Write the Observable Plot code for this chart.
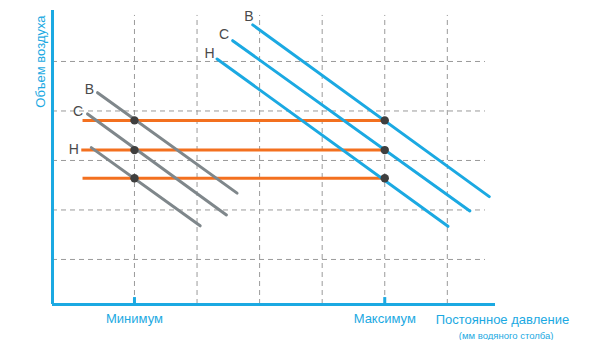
<!DOCTYPE html>
<html><head><meta charset="utf-8">
<script src="https://cdn.jsdelivr.net/npm/d3@7"></script>
<script src="https://cdn.jsdelivr.net/npm/@observablehq/plot@0.6"></script>
<style>body{margin:0;background:#fff}</style>
</head><body><div id="chart"></div>
<script>
// Levels: В (high), С (medium), Н (low)
const levels = ["В", "С", "Н"];
// Grid positions (arbitrary units)
const gridX = [2, 3, 4, 5, 6, 7];
const gridY = [1, 2, 3, 4, 5];
const minX = 2, maxX = 6;
// Orange operating lines (constant air volume)
const orangeY = [3.81, 3.21, 2.64];
const orangeX0 = [1.17, 1.15, 1.17];
// Gray fan curves (minimum)
const grayX1 = [1.41, 1.25, 1.31], grayY1 = [4.37, 3.94, 3.26];
const grayX2 = [3.64, 3.47, 3.05], grayY2 = [2.34, 1.90, 1.68];
// Blue fan curves (maximum)
const blueX1 = [3.89, 3.57, 3.32], blueY1 = [5.74, 5.42, 5.05];
const blueX2 = [7.67, 7.36, 7.01], blueY2 = [2.27, 1.98, 1.67];
// Level label positions
const grayLabX = [1.28, 1.10, 1.03], grayLabY = [4.43, 3.99, 3.22];
const blueLabX = [3.83, 3.43, 3.20], blueLabY = [5.91, 5.54, 5.16];
// Axis texts
const xTickLabels = ["Минимум", "Максимум"];
const xTitle = "Постоянное давление";
const xSubtitle = "(мм водяного столба)";
const yTitle = "Объем воздуха";

const blue = "#1ba9e2", orange = "#f3701f", gray = "#7f878b", dot = "#3f3f3f", gridC = "#9a9a9a";
const font = "Liberation Sans, Arial, sans-serif";

const idx = d3.range(3);
const chart = Plot.plot({
  width: 601, height: 340,
  marginLeft: 52, marginRight: 106, marginTop: 10, marginBottom: 36,
  style: {fontFamily: font, background: "#fff"},
  x: {domain: [0.69, 7.77], axis: null},
  y: {domain: [0.09, 6.03], axis: null},
  marks: [
    Plot.ruleX(gridX, {y1: 0.09, y2: 5.93, stroke: gridC, strokeWidth: 1, strokeDasharray: "5,4"}),
    Plot.ruleY(gridY, {x1: 0.69, x2: 7.61, stroke: gridC, strokeWidth: 1, strokeDasharray: "5,4"}),
    Plot.link(idx, {x1: i => orangeX0[i], x2: maxX, y1: i => orangeY[i], y2: i => orangeY[i], stroke: orange, strokeWidth: 3}),
    Plot.link(idx, {x1: i => grayX1[i], y1: i => grayY1[i], x2: i => grayX2[i], y2: i => grayY2[i], stroke: gray, strokeWidth: 3, strokeLinecap: "round"}),
    Plot.link(idx, {x1: i => blueX1[i], y1: i => blueY1[i], x2: i => blueX2[i], y2: i => blueY2[i], stroke: blue, strokeWidth: 3, strokeLinecap: "round"}),
    Plot.dot(idx, {x: minX, y: i => orangeY[i], r: 4.2, fill: dot}),
    Plot.dot(idx, {x: maxX, y: i => orangeY[i], r: 4.2, fill: dot}),
    Plot.text(idx, {x: i => grayLabX[i], y: i => grayLabY[i], text: i => levels[i], fill: "#4a4a4a", fontSize: 14}),
    Plot.text(idx, {x: i => blueLabX[i], y: i => blueLabY[i], text: i => levels[i], fill: "#4a4a4a", fontSize: 14}),
    // axes
    Plot.ruleX([0.69], {y1: 0.09, y2: 6.03, stroke: blue, strokeWidth: 3}),
    Plot.ruleY([0.09], {x1: 0.69, x2: 7.77, stroke: blue, strokeWidth: 3}),
    Plot.ruleX([minX, maxX], {y1: 0.09, y2: 0.23, stroke: blue, strokeWidth: 3}),
    Plot.text([minX, maxX], {x: d => d, y: -0.20, text: (d, i) => xTickLabels[i], fill: blue, fontSize: 13}),
    Plot.text([xTitle], {x: 7.88, y: -0.21, text: d => d, fill: blue, fontSize: 13}),
    Plot.text([xSubtitle], {x: 7.94, y: -0.55, text: d => d, fill: blue, fontSize: 9.5}),
    Plot.text([yTitle], {x: 0.50, y: 5.93, text: d => d, rotate: -90, textAnchor: "end", fill: blue, fontSize: 13})
  ]
});
document.getElementById("chart").appendChild(chart);
</script>
</body></html>
